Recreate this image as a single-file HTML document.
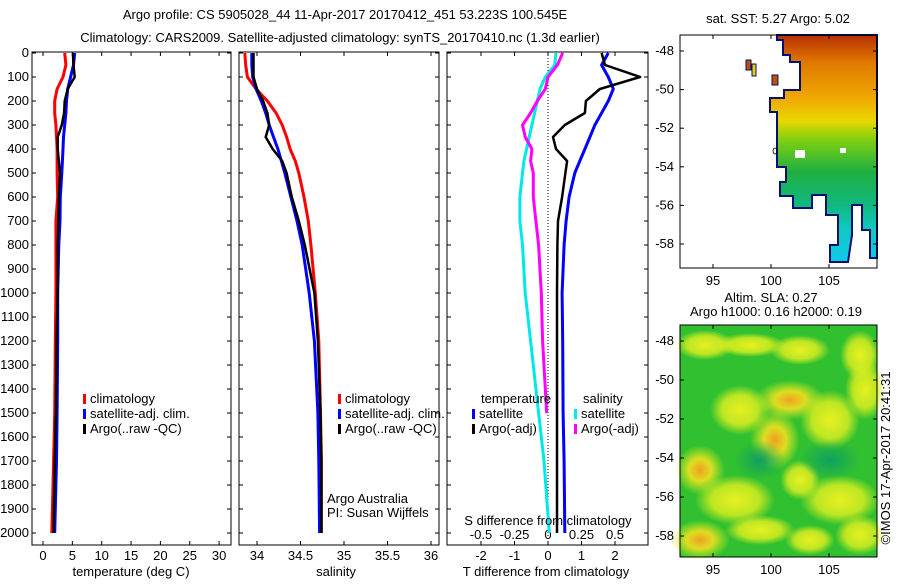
<!DOCTYPE html>
<html><head><meta charset="utf-8"><style>
body{margin:0;background:#fff;width:900px;height:580px;overflow:hidden;font-family:"Liberation Sans",sans-serif}
svg text{font-family:"Liberation Sans",sans-serif;font-size:13px;fill:#000}
</style></head><body>
<svg id="c" width="900" height="580" xmlns="http://www.w3.org/2000/svg">
<defs>
<linearGradient id="sstg" x1="0" y1="0" x2="0" y2="1">
<stop offset="0" stop-color="#b83000"/><stop offset="0.12" stop-color="#e07800"/><stop offset="0.28" stop-color="#f0a800"/><stop offset="0.38" stop-color="#e8d800"/><stop offset="0.46" stop-color="#80d010"/><stop offset="0.6" stop-color="#20b040"/><stop offset="0.75" stop-color="#10b880"/><stop offset="0.85" stop-color="#10c8c0"/><stop offset="1" stop-color="#10c8e8"/>
</linearGradient>
<radialGradient id="blob"><stop offset="0" stop-color="#f0a020"/><stop offset="0.45" stop-color="#f0e020" stop-opacity="0.9"/><stop offset="1" stop-color="#d8f020" stop-opacity="0"/></radialGradient>
<radialGradient id="blob2"><stop offset="0" stop-color="#e8f020"/><stop offset="0.6" stop-color="#e0f020" stop-opacity="0.8"/><stop offset="1" stop-color="#e0f020" stop-opacity="0"/></radialGradient>
<radialGradient id="blob3"><stop offset="0" stop-color="#10a060"/><stop offset="1" stop-color="#10a060" stop-opacity="0"/></radialGradient>
</defs>
</svg>
<script>
const depths=[0,50,100,150,200,250,300,350,400,450,500,600,700,800,1000,1200,1500,1700,2000];
const tempClim=[3.7,3.9,3.4,2.4,2.0,2.0,2.2,2.3,2.4,2.4,2.4,2.5,2.2,2.2,2.2,2.1,2.0,1.8,1.5];
const tempSat=[5.4,5.2,4.7,4.2,4.0,3.9,3.7,3.5,3.4,3.3,3.2,2.95,2.9,2.7,2.5,2.5,2.4,2.3,2.0];
const tempArgo=[5.1,5.2,5.4,4.2,3.7,3.6,3.2,2.5,2.5,2.7,2.9,2.7,2.6,2.5,2.5,2.3,2.2,2.0,1.8];
const salClim=[33.86,33.87,33.89,33.99,34.12,34.22,34.29,34.34,34.38,34.44,34.48,34.54,34.59,34.62,34.67,34.71,34.73,34.74,34.74];
const salSat=[33.94,33.94,33.95,33.99,34.05,34.10,34.14,34.19,34.24,34.28,34.32,34.39,34.46,34.52,34.60,34.66,34.70,34.71,34.72];
const salArgo=[33.96,33.96,33.96,34.0,34.07,34.12,34.14,34.1,34.18,34.29,34.34,34.4,34.48,34.55,34.66,34.70,34.73,34.74,34.74];
const tdSat=[1.8,1.6,1.8,1.95,1.8,1.6,1.4,1.25,1.1,0.95,0.8,0.63,0.54,0.48,0.42,0.44,0.45,0.48,0.5];
const tdArgo=[1.6,1.7,2.75,1.55,1.13,1.1,0.5,0.15,0.24,0.57,0.52,0.42,0.3,0.28,0.27,0.27,0.27,0.27,0.27];
const sdSat=[0.06,0.05,-0.02,-0.06,-0.08,-0.1,-0.12,-0.14,-0.16,-0.18,-0.19,-0.21,-0.21,-0.19,-0.17,-0.13,-0.07,-0.03,0.01];
const sdArgo=[0.11,0.07,0.0,-0.02,-0.08,-0.13,-0.19,-0.17,-0.12,-0.13,-0.11,-0.11,-0.09,-0.07,-0.05,-0.04,-0.01,0.0,0.02];
const depthTicks=[0,100,200,300,400,500,600,700,800,900,1000,1100,1200,1300,1400,1500,1600,1700,1800,1900,2000];
const tempTicks=[0,5,10,15,20,25,30];
const salTicks=[34,34.5,35,35.5,36];
const tdTicks=[-2,-1,0,1,2];
const sdTicks=[-0.5,-0.25,0,0.25,0.5];
const lonTicks=[95,100,105];
const latTicks=[-48,-50,-52,-54,-56,-58];

const NS='http://www.w3.org/2000/svg';const svg=document.getElementById('c');
function el(t,a,txt){const e=document.createElementNS(NS,t);for(const k in a)e.setAttribute(k,a[k]);if(txt!==undefined)e.textContent=txt;svg.appendChild(e);return e;}
const yD=d=>53+d*0.24;
const P1={l:32,r:231},P2={l:239,r:439},P3={l:447,r:648},TOP=52,BOT=545;
const xT=t=>43+t*5.87, xS=s=>257+(s-34)*87, xTD=t=>548+t*33.5, xSD=s=>548+s*134;

function frame(p,name){const r=el('rect',{x:p.l,y:TOP,width:p.r-p.l,height:BOT-TOP,fill:'none',stroke:'#000','stroke-width':1});}
frame(P1,'temperature-panel');frame(P2,'salinity-panel');frame(P3,'difference-panel');
depthTicks.forEach(d=>{const y=yD(d);[P1,P2,P3].forEach(p=>{el('line',{x1:p.l,y1:y,x2:p.l+4,y2:y,stroke:'#000'});el('line',{x1:p.r,y1:y,x2:p.r-4,y2:y,stroke:'#000'});});
 const t=el('text',{x:29,y:y+4,'text-anchor':'end'},String(d));});
function xticks(ticks,f,p,ly,name,top=true){ticks.forEach(v=>{const x=f(v);el('line',{x1:x,y1:BOT,x2:x,y2:BOT-4,stroke:'#000'});if(top)el('line',{x1:x,y1:TOP,x2:x,y2:TOP+4,stroke:'#000'});const t=el('text',{x:x,y:ly,'text-anchor':'middle'},String(v));});}
xticks(tempTicks,xT,P1,560,'temperature-tick-label');
xticks(salTicks,xS,P2,560,'salinity-tick-label');
xticks(tdTicks,xTD,P3,560,'t-diff-tick-label');
sdTicks.forEach(v=>{const t=el('text',{x:xSD(v),y:539,'text-anchor':'middle'},String(v));});
el('line',{x1:xTD(0),y1:TOP,x2:xTD(0),y2:BOT,stroke:'#000','stroke-dasharray':'1,2'});

function series(xs,f,color,name,w=3,n=depths.length){const pts=[];for(let i=0;i<n;i++)pts.push(f(xs[i]).toFixed(1)+','+yD(depths[i]).toFixed(1));
 const p=el('polyline',{points:pts.join(' '),fill:'none',stroke:color,'stroke-width':w,'stroke-linejoin':'round'});}
series(tempClim,xT,'#f00','temp-climatology-line');series(tempSat,xT,'#00f','temp-satellite-line');series(tempArgo,xT,'#000','temp-argo-line',2.5);
series(salClim,xS,'#f00','sal-climatology-line');series(salSat,xS,'#00f','sal-satellite-line');series(salArgo,xS,'#000','sal-argo-line',2.5);
series(sdSat,xSD,'#00e8e8','sdiff-satellite-line');series(sdArgo,xSD,'#f0f','sdiff-argo-line',3,17);
series(tdSat,xTD,'#00f','tdiff-satellite-line');series(tdArgo,xTD,'#000','tdiff-argo-line',2.5);

function txt(x,y,s,name,anchor='start',extra={}){const t=el('text',Object.assign({x:x,y:y,'text-anchor':anchor},extra),s);return t;}
function leg(x,y,c,s,name){el('rect',{x:x,y:y-9,width:3,height:10,fill:c});txt(x+7,y,s,name);}
[[83,P1],[338,P2]].forEach(([x])=>{leg(x,403,'#f00','climatology','legend-climatology');leg(x,418,'#00f','satellite-adj. clim.','legend-satellite-adj');leg(x,433,'#000','Argo(..raw -QC)','legend-argo');});
txt(327,503,'Argo Australia','argo-australia-note');txt(327,517,'PI: Susan Wijffels','pi-note');
txt(481,403,'temperature','legend-temp-title');leg(472,418,'#00f','satellite','legend-temp-satellite');leg(472,433,'#000','Argo(-adj)','legend-temp-argo');
txt(583,403,'salinity','legend-sal-title');leg(574,418,'#00e8e8','satellite','legend-sal-satellite');leg(574,433,'#f0f','Argo(-adj)','legend-sal-argo');
txt(548,525,'S difference from climatology','s-diff-axis-title','middle');
txt(131,576,'temperature (deg C)','temperature-axis-title','middle');
txt(336,576,'salinity','salinity-axis-title','middle');
txt(546,576,'T difference from climatology','t-diff-axis-title','middle');
txt(345,19,'Argo profile: CS 5905028_44 11-Apr-2017 20170412_451 53.223S 100.545E','title-line1','middle');
txt(340,42,'Climatology: CARS2009. Satellite-adjusted climatology: synTS_20170410.nc (1.3d earlier)','title-line2','middle');

const M1={l:680,r:877,t:35,b:268},M2={l:680,r:877,t:325,b:557};
const lonX=lo=>713+(lo-95)*11.6;
const latY1=la=>51+(-48-la)*19.3, latY2=la=>341+(-48-la)*19.5;
let sst=el('polygon',{points:'777,35 877,35 877,258 870,258 870,230 862,230 862,205 852,205 852,235 848,262 830,262 830,245 838,245 838,215 826,215 826,195 812,195 812,208 793,208 793,196 780,196 780,182 786,182 786,167 777,167 777,112 770,112 770,98 784,98 784,90 800,90 800,62 790,62 790,55 783,55 783,40 777,40',fill:'url(#sstg)',stroke:'#001070','stroke-width':2});

el('rect',{x:746,y:60,width:5,height:10,fill:'#c05000',stroke:'#001070'});
el('rect',{x:752,y:64,width:4,height:12,fill:'#e8d000',stroke:'#001070'});
el('rect',{x:772,y:75,width:6,height:10,fill:'#c05000',stroke:'#001070'});
el('rect',{x:795,y:150,width:10,height:8,fill:'#fff'});
el('rect',{x:840,y:148,width:6,height:5,fill:'#fff'});
el('ellipse',{cx:775,cy:151,rx:2,ry:3,fill:'none',stroke:'#000','stroke-width':0.8});
let sla=el('rect',{x:M2.l,y:M2.t,width:M2.r-M2.l,height:M2.b-M2.t,fill:'#30c030'});
[[705,345,30,15,'blob2'],[750,345,35,12,'blob2'],[800,350,30,15,'blob2'],[860,355,20,25,'blob2'],[790,400,35,20,'blob'],[740,410,30,25,'blob2'],[775,440,25,30,'blob'],[700,470,25,25,'blob'],[830,420,30,30,'blob2'],[865,390,20,30,'blob2'],[735,500,40,25,'blob2'],[840,500,40,25,'blob2'],[800,480,20,20,'blob2'],[700,540,30,20,'blob'],[760,530,35,15,'blob2'],[760,460,25,20,'blob3'],[830,460,30,20,'blob3'],[860,535,25,20,'blob2'],[810,540,25,15,'blob2']].forEach(b=>el('ellipse',{cx:b[0],cy:b[1],rx:b[2],ry:b[3],fill:'url(#'+b[4]+')'}));
[[M1,latY1,'sst'],[M2,latY2,'sla']].forEach(([m,ly,n])=>{
 const f=el('rect',{x:m.l,y:m.t,width:m.r-m.l,height:m.b-m.t,fill:'none',stroke:'#000'});
 lonTicks.forEach(lo=>{const x=lonX(lo);el('line',{x1:x,y1:m.b,x2:x,y2:m.b-4,stroke:'#000'});el('line',{x1:x,y1:m.t,x2:x,y2:m.t+4,stroke:'#000'});txt(x,m.b+17,String(lo),n+'-lon-tick-label','middle');});
 latTicks.forEach(la=>{const y=ly(la);el('line',{x1:m.l,y1:y,x2:m.l+4,y2:y,stroke:'#000'});el('line',{x1:m.r,y1:y,x2:m.r-4,y2:y,stroke:'#000'});txt(m.l-6,y+4,String(la),n+'-lat-tick-label','end');});
});
txt(778,23,'sat. SST: 5.27 Argo: 5.02','sst-map-title','middle');
txt(771,302,'Altim. SLA: 0.27','sla-map-title','middle');
txt(776,316,'Argo h1000: 0.16 h2000: 0.19','sla-map-subtitle','middle');
txt(0,0,'©IMOS 17-Apr-2017 20:41:31','imos-credit','middle',{transform:'translate(890,458) rotate(-90)'});
</script>
</body></html>
